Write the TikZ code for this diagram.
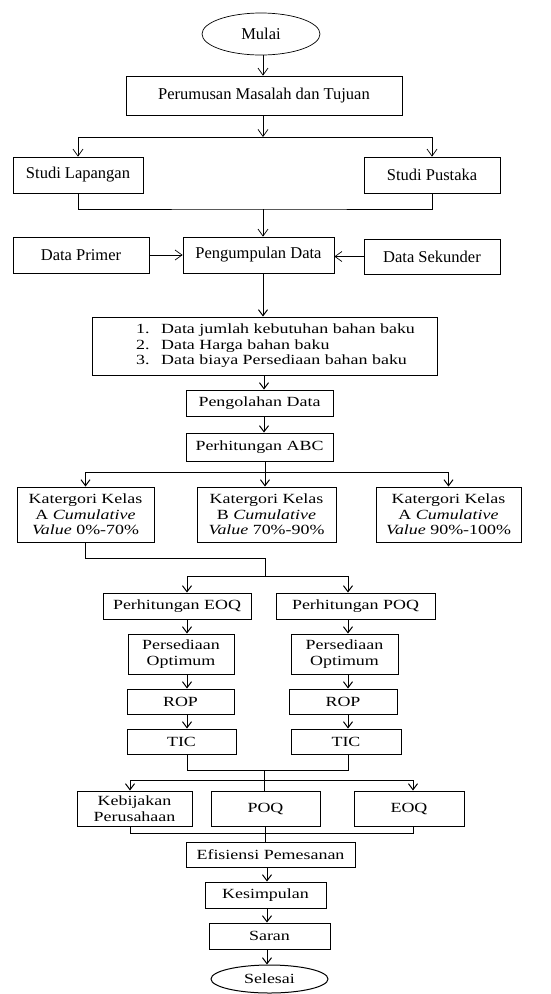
\documentclass[tikz,border=0pt]{standalone}
\usepackage{fontspec}
\setmainfont{Liberation Serif}
\newfontfamily\widefont[FakeStretch=1.28]{Liberation Serif}
\usetikzlibrary{shapes.geometric,arrows.meta}
\begin{document}
\begin{tikzpicture}[x=1pt,y=-1pt,
        every node/.style={draw,inner sep=2pt,align=center},
        upper/.style={font=\fontsize{16.5}{19}\selectfont,line width=0.7pt},
        lower/.style={font=\widefont\fontsize{14}{15.5}\selectfont,line width=1pt},
        arr/.style={line width=0.7pt,-{Straight Barb[length=7pt,width=10pt]}},
        arrb/.style={line width=1pt,-{Straight Barb[length=6pt,width=9pt]}},
        link/.style={line width=1pt}]
        \useasboundingbox (0,0) rectangle (551,994);
        % upper part
        \node[upper,ellipse,minimum width=118,minimum height=42] (mulai) at (261,34) {Mulai};
        \node[upper,minimum width=276,minimum height=39] (rumusan) at (264,95.5) {Perumusan Masalah dan Tujuan};
        \node[upper,minimum width=130,minimum height=36] (lapangan) at (78,175) {Studi Lapangan};
        \node[upper,minimum width=136,minimum height=36] (pustaka) at (432,175) {Studi Pustaka};
        \node[upper,minimum width=136,minimum height=36] (primer) at (81,255) {Data Primer};
        \node[upper,minimum width=151,minimum height=36] (kumpul) at (258.5,255) {Pengumpulan Data};
        \node[upper,minimum width=136,minimum height=35] (sekunder) at (432,256.5) {Data Sekunder};
        \coordinate (split1) at (263,137);
        \coordinate (join1) at (263,209);
        \draw[arr] (mulai.south -| split1) -- (split1 |- rumusan.north);
        \draw[arr] (rumusan.south -| split1) -- (split1);
        \draw[arr] (split1) -| (lapangan.north);
        \draw[arr] (split1) -| (pustaka.north);
        \draw[line width=0.7pt] (lapangan.south) |- (join1) -| (pustaka.south);
        \draw[arr] (join1) -- (join1 |- kumpul.north);
        \draw[arr] (primer) -- (kumpul);
        \draw[arr] (sekunder.west) -- (sekunder.west -| kumpul.east);
        % lower part
        \node[lower,align=left,minimum width=345,minimum height=58] (datalist) at (264.5,346)
            {\hspace*{22pt}\makebox[25pt][l]{1.}Data jumlah kebutuhan bahan baku\\
             \hspace*{22pt}\makebox[25pt][l]{2.}Data Harga bahan baku\\
             \hspace*{22pt}\makebox[25pt][l]{3.}Data biaya Persediaan bahan baku};
        \node[lower,minimum width=147,minimum height=26] (olah) at (259.5,403) {Pengolahan Data};
        \node[lower,minimum width=147,minimum height=28] (abc) at (259.5,447) {Perhitungan ABC};
        \node[lower,minimum width=137,minimum height=55] (katA) at (85.5,514.5)
            {Katergori Kelas\\A \textit{Cumulative}\\\textit{Value} 0\%-70\%};
        \node[lower,minimum width=139,minimum height=55] (katB) at (266.5,514.5)
            {Katergori Kelas\\B \textit{Cumulative}\\\textit{Value} 70\%-90\%};
        \node[lower,minimum width=145,minimum height=55] (katC) at (448.5,514.5)
            {Katergori Kelas\\A \textit{Cumulative}\\\textit{Value} 90\%-100\%};
        \node[lower,minimum width=148,minimum height=26] (peoq) at (177,606) {Perhitungan EOQ};
        \node[lower,minimum width=159,minimum height=26] (ppoq) at (355.5,606) {Perhitungan POQ};
        \node[lower,minimum width=106,minimum height=40] (optL) at (181,654) {Persediaan\\Optimum};
        \node[lower,minimum width=107,minimum height=40] (optR) at (344.5,654) {Persediaan\\Optimum};
        \node[lower,minimum width=107,minimum height=25] (ropL) at (180.5,701.5) {ROP};
        \node[lower,minimum width=108,minimum height=25] (ropR) at (343,701.5) {ROP};
        \node[lower,minimum width=109,minimum height=25] (ticL) at (181.5,741.5) {TIC};
        \node[lower,minimum width=110,minimum height=25] (ticR) at (346,741.5) {TIC};
        \node[lower,minimum width=115,minimum height=35] (bijak) at (134.5,808.5) {Kebijakan\\Perusahaan};
        \node[lower,minimum width=109,minimum height=35] (poq) at (265.5,808.5) {POQ};
        \node[lower,minimum width=110,minimum height=35] (eoq) at (409,808.5) {EOQ};
        \node[lower,minimum width=169,minimum height=25] (efisien) at (270.5,854.5) {Efisiensi Pemesanan};
        \node[lower,minimum width=121,minimum height=26] (simpul) at (265.5,895) {Kesimpulan};
        \node[lower,minimum width=121,minimum height=26] (saran) at (269.5,936) {Saran};
        \node[lower,ellipse,minimum width=117,minimum height=28] (selesai) at (269.5,979) {Selesai};
        \coordinate (axis) at (264,0);
        \coordinate (split2) at (265,472);
        \coordinate (bend1) at (265,558);
        \coordinate (split3) at (265,576);
        \coordinate (colL) at (187,0);
        \coordinate (colR) at (348,0);
        \coordinate (join2) at (264,770);
        \coordinate (split4) at (264,780);
        \coordinate (colB) at (130,0);
        \coordinate (colE) at (413,0);
        \coordinate (join3) at (265,833);
        \coordinate (axis2) at (267,0);
        \draw[arrb] (kumpul.south -| join1) -- (join1 |- datalist.north);
        \draw[arrb] (axis |- datalist.south) -- (axis |- olah.north);
        \draw[arrb] (axis |- olah.south) -- (axis |- abc.north);
        \draw[link] (split2 |- abc.south) -- (split2);
        \draw[arrb] (split2) -| (katA.north);
        \draw[arrb] (split2) -- (split2 |- katB.north);
        \draw[arrb] (split2) -| (katC.north);
        \draw[link] (katA.south) |- (bend1) -- (split3);
        \draw[arrb] (split3) -| (colL |- peoq.north);
        \draw[arrb] (split3) -| (colR |- ppoq.north);
        \foreach \a/\b in {peoq/optL,optL/ropL,ropL/ticL}
            \draw[arrb] (colL |- \a.south) -- (colL |- \b.north);
        \foreach \a/\b in {ppoq/optR,optR/ropR,ropR/ticR}
            \draw[arrb] (colR |- \a.south) -- (colR |- \b.north);
        \draw[link] (colL |- ticL.south) |- (join2) -| (colR |- ticR.south);
        \draw[link] (join2) -- (join2 |- poq.north);
        \draw[arrb] (split4) -| (colB |- bijak.north);
        \draw[arrb] (split4) -| (colE |- eoq.north);
        \draw[link] (colB |- bijak.south) |- (join3) -| (colE |- eoq.south);
        \draw[link] (join3 |- poq.south) -- (join3 |- efisien.north);
        \draw[arrb] (axis2 |- efisien.south) -- (axis2 |- simpul.north);
        \draw[arrb] (axis2 |- simpul.south) -- (axis2 |- saran.north);
        \draw[arrb] (axis2 |- saran.south) -- (axis2 |- selesai.north);
\end{tikzpicture}
\end{document}
